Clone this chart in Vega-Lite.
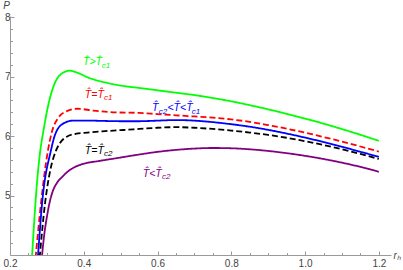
{
  "$schema": "https://vega.github.io/schema/vega-lite/v6.json",
  "width": 381,
  "height": 239,
  "autosize": {"type": "none"},
  "padding": {"left": 10, "top": 16, "right": 12, "bottom": 15},
  "config": {"view": {"stroke": null}, "font": "Liberation Sans"},
  "datasets": {
    "curves": [
      {"s": "gt", "x": 0.255, "y": 3.5}, {"s": "gt", "x": 0.260, "y": 4.0}, {"s": "gt", "x": 0.266, "y": 4.6}, {"s": "gt", "x": 0.273, "y": 5.2}, {"s": "gt", "x": 0.281, "y": 5.7}, {"s": "gt", "x": 0.291, "y": 6.1}, {"s": "gt", "x": 0.303, "y": 6.5}, {"s": "gt", "x": 0.317, "y": 6.82}, {"s": "gt", "x": 0.336, "y": 7.03}, {"s": "gt", "x": 0.362, "y": 7.10}, {"s": "gt", "x": 0.385, "y": 7.06}, {"s": "gt", "x": 0.41, "y": 6.99}, {"s": "gt", "x": 0.46, "y": 6.90}, {"s": "gt", "x": 0.50, "y": 6.85}, {"s": "gt", "x": 0.55, "y": 6.81}, {"s": "gt", "x": 0.60, "y": 6.77}, {"s": "gt", "x": 0.65, "y": 6.73}, {"s": "gt", "x": 0.70, "y": 6.69}, {"s": "gt", "x": 0.75, "y": 6.64}, {"s": "gt", "x": 0.80, "y": 6.585}, {"s": "gt", "x": 0.85, "y": 6.52}, {"s": "gt", "x": 0.90, "y": 6.45}, {"s": "gt", "x": 0.95, "y": 6.375}, {"s": "gt", "x": 1.00, "y": 6.295}, {"s": "gt", "x": 1.05, "y": 6.21}, {"s": "gt", "x": 1.10, "y": 6.118}, {"s": "gt", "x": 1.15, "y": 6.022}, {"s": "gt", "x": 1.20, "y": 5.92},
      {"s": "c1", "x": 0.262, "y": 3.5}, {"s": "c1", "x": 0.270, "y": 4.0}, {"s": "c1", "x": 0.284, "y": 4.87}, {"s": "c1", "x": 0.303, "y": 5.76}, {"s": "c1", "x": 0.314, "y": 6.08}, {"s": "c1", "x": 0.33, "y": 6.30}, {"s": "c1", "x": 0.354, "y": 6.42}, {"s": "c1", "x": 0.382, "y": 6.46}, {"s": "c1", "x": 0.425, "y": 6.43}, {"s": "c1", "x": 0.48, "y": 6.40}, {"s": "c1", "x": 0.55, "y": 6.39}, {"s": "c1", "x": 0.60, "y": 6.37}, {"s": "c1", "x": 0.65, "y": 6.35}, {"s": "c1", "x": 0.70, "y": 6.33}, {"s": "c1", "x": 0.75, "y": 6.31}, {"s": "c1", "x": 0.80, "y": 6.28}, {"s": "c1", "x": 0.85, "y": 6.24}, {"s": "c1", "x": 0.90, "y": 6.185}, {"s": "c1", "x": 0.95, "y": 6.125}, {"s": "c1", "x": 1.00, "y": 6.058}, {"s": "c1", "x": 1.05, "y": 5.985}, {"s": "c1", "x": 1.10, "y": 5.907}, {"s": "c1", "x": 1.15, "y": 5.825}, {"s": "c1", "x": 1.20, "y": 5.74},
      {"s": "mid", "x": 0.270, "y": 3.5}, {"s": "mid", "x": 0.276, "y": 4.0}, {"s": "mid", "x": 0.287, "y": 4.87}, {"s": "mid", "x": 0.311, "y": 5.76}, {"s": "mid", "x": 0.322, "y": 6.02}, {"s": "mid", "x": 0.344, "y": 6.21}, {"s": "mid", "x": 0.371, "y": 6.26}, {"s": "mid", "x": 0.41, "y": 6.26}, {"s": "mid", "x": 0.50, "y": 6.25}, {"s": "mid", "x": 0.55, "y": 6.25}, {"s": "mid", "x": 0.60, "y": 6.26}, {"s": "mid", "x": 0.65, "y": 6.27}, {"s": "mid", "x": 0.70, "y": 6.26}, {"s": "mid", "x": 0.75, "y": 6.235}, {"s": "mid", "x": 0.80, "y": 6.20}, {"s": "mid", "x": 0.85, "y": 6.158}, {"s": "mid", "x": 0.90, "y": 6.105}, {"s": "mid", "x": 0.95, "y": 6.043}, {"s": "mid", "x": 1.00, "y": 5.975}, {"s": "mid", "x": 1.05, "y": 5.9}, {"s": "mid", "x": 1.10, "y": 5.82}, {"s": "mid", "x": 1.15, "y": 5.736}, {"s": "mid", "x": 1.20, "y": 5.65},
      {"s": "c2", "x": 0.274, "y": 3.5}, {"s": "c2", "x": 0.281, "y": 4.0}, {"s": "c2", "x": 0.295, "y": 4.87}, {"s": "c2", "x": 0.310, "y": 5.45}, {"s": "c2", "x": 0.325, "y": 5.76}, {"s": "c2", "x": 0.340, "y": 5.92}, {"s": "c2", "x": 0.354, "y": 5.99}, {"s": "c2", "x": 0.38, "y": 6.04}, {"s": "c2", "x": 0.41, "y": 6.06}, {"s": "c2", "x": 0.45, "y": 6.08}, {"s": "c2", "x": 0.50, "y": 6.10}, {"s": "c2", "x": 0.55, "y": 6.12}, {"s": "c2", "x": 0.60, "y": 6.14}, {"s": "c2", "x": 0.65, "y": 6.15}, {"s": "c2", "x": 0.70, "y": 6.14}, {"s": "c2", "x": 0.75, "y": 6.12}, {"s": "c2", "x": 0.80, "y": 6.093}, {"s": "c2", "x": 0.85, "y": 6.06}, {"s": "c2", "x": 0.90, "y": 6.02}, {"s": "c2", "x": 0.95, "y": 5.972}, {"s": "c2", "x": 1.00, "y": 5.915}, {"s": "c2", "x": 1.05, "y": 5.85}, {"s": "c2", "x": 1.10, "y": 5.778}, {"s": "c2", "x": 1.15, "y": 5.7}, {"s": "c2", "x": 1.20, "y": 5.615},
      {"s": "lt", "x": 0.280, "y": 3.5}, {"s": "lt", "x": 0.287, "y": 4.0}, {"s": "lt", "x": 0.293, "y": 4.35}, {"s": "lt", "x": 0.300, "y": 4.64}, {"s": "lt", "x": 0.308, "y": 4.9}, {"s": "lt", "x": 0.317, "y": 5.09}, {"s": "lt", "x": 0.328, "y": 5.22}, {"s": "lt", "x": 0.341, "y": 5.31}, {"s": "lt", "x": 0.358, "y": 5.41}, {"s": "lt", "x": 0.376, "y": 5.48}, {"s": "lt", "x": 0.403, "y": 5.54}, {"s": "lt", "x": 0.44, "y": 5.58}, {"s": "lt", "x": 0.49, "y": 5.63}, {"s": "lt", "x": 0.55, "y": 5.69}, {"s": "lt", "x": 0.60, "y": 5.735}, {"s": "lt", "x": 0.65, "y": 5.768}, {"s": "lt", "x": 0.70, "y": 5.79}, {"s": "lt", "x": 0.75, "y": 5.80}, {"s": "lt", "x": 0.80, "y": 5.795}, {"s": "lt", "x": 0.85, "y": 5.778}, {"s": "lt", "x": 0.90, "y": 5.75}, {"s": "lt", "x": 0.95, "y": 5.713}, {"s": "lt", "x": 1.00, "y": 5.668}, {"s": "lt", "x": 1.05, "y": 5.615}, {"s": "lt", "x": 1.10, "y": 5.553}, {"s": "lt", "x": 1.15, "y": 5.482}, {"s": "lt", "x": 1.20, "y": 5.40}
    ],
    "labels": [
      {"s": "gt", "k": "m", "t": "T\u0302>T\u0302", "x": 0.398, "y": 7.19},
      {"s": "gt", "k": "s", "t": "c1", "x": 0.449, "y": 7.15},
      {"s": "c1", "k": "m", "t": "T\u0302=T\u0302", "x": 0.403, "y": 6.64},
      {"s": "c1", "k": "s", "t": "c1", "x": 0.455, "y": 6.60},
      {"s": "mid", "k": "m", "t": "T\u0302", "x": 0.585, "y": 6.42},
      {"s": "mid", "k": "s", "t": "c2", "x": 0.603, "y": 6.38},
      {"s": "mid", "k": "m", "t": "<T\u0302<T\u0302", "x": 0.627, "y": 6.42},
      {"s": "mid", "k": "s", "t": "c1", "x": 0.693, "y": 6.38},
      {"s": "c2", "k": "m", "t": "T\u0302=T\u0302", "x": 0.403, "y": 5.70},
      {"s": "c2", "k": "s", "t": "c2", "x": 0.455, "y": 5.66},
      {"s": "lt", "k": "m", "t": "T\u0302<T\u0302", "x": 0.560, "y": 5.31},
      {"s": "lt", "k": "s", "t": "c2", "x": 0.612, "y": 5.27}
    ]
  },
  "encoding": {
    "x": {
      "field": "x", "type": "quantitative",
      "scale": {"domain": [0.2, 1.233], "nice": false, "zero": false},
      "axis": {
        "values": [0.2, 0.25, 0.3, 0.35, 0.4, 0.45, 0.5, 0.55, 0.6, 0.65, 0.7, 0.75, 0.8, 0.85, 0.9, 0.95, 1.0, 1.05, 1.1, 1.15, 1.2],
        "labelExpr": "abs(datum.value * 5 - round(datum.value * 5)) < 0.001 ? format(datum.value, '.1f') : ''",
        "tickSize": {"condition": {"test": "abs(datum.value * 5 - round(datum.value * 5)) < 0.001", "value": -4}, "value": -2.5},
        "grid": false, "domainColor": "#9a9a9a", "tickColor": "#9a9a9a", "tickWidth": 1, "domainWidth": 1,
        "labelColor": "#444444", "labelFontSize": 10, "labelPadding": 7, "labelFlush": false, "labelOverlap": false,
        "title": "r\u2095", "titleX": 383, "titleY": 3, "titleAlign": "left", "titleBaseline": "alphabetic",
        "titleFontStyle": "italic", "titleFontWeight": "normal", "titleFontSize": 10, "titleColor": "#444444"
      }
    },
    "y": {
      "field": "y", "type": "quantitative",
      "scale": {"domain": [4, 8.02], "nice": false, "zero": false},
      "axis": {
        "values": [4.2, 4.4, 4.6, 4.8, 5, 5.2, 5.4, 5.6, 5.8, 6, 6.2, 6.4, 6.6, 6.8, 7, 7.2, 7.4, 7.6, 7.8, 8],
        "labelExpr": "abs(datum.value - round(datum.value)) < 0.001 ? format(datum.value, 'd') : ''",
        "tickSize": {"condition": {"test": "abs(datum.value - round(datum.value)) < 0.001", "value": -4}, "value": -2.5},
        "grid": false, "domainColor": "#9a9a9a", "tickColor": "#9a9a9a", "tickWidth": 1, "domainWidth": 1,
        "labelColor": "#444444", "labelFontSize": 10, "labelPadding": 4, "labelFlush": false, "labelOverlap": false,
        "title": "P", "titleAngle": 0, "titleX": -4, "titleY": -8, "titleAlign": "center", "titleBaseline": "alphabetic",
        "titleFontStyle": "italic", "titleFontWeight": "normal", "titleFontSize": 10, "titleColor": "#444444"
      }
    },
    "color": {
      "field": "s", "type": "nominal", "legend": null,
      "scale": {"domain": ["gt", "c1", "mid", "c2", "lt"], "range": ["#00ff00", "#ff0000", "#0000ff", "#000000", "#800080"]}
    }
  },
  "layer": [
    {
      "data": {"name": "curves"},
      "mark": {"type": "line", "interpolate": "monotone", "clip": true, "strokeWidth": 1.8},
      "encoding": {
        "strokeDash": {
          "field": "s", "type": "nominal", "legend": null,
          "scale": {"domain": ["gt", "c1", "mid", "c2", "lt"], "range": [[1, 0], [6, 3], [1, 0], [6, 3], [1, 0]]}
        }
      }
    },
    {
      "data": {"name": "labels"},
      "mark": {"type": "text", "align": "left", "baseline": "alphabetic", "fontStyle": "italic"},
      "encoding": {
        "text": {"field": "t"},
        "size": {"field": "k", "type": "nominal", "legend": null, "scale": {"domain": ["m", "s"], "range": [10.5, 8]}}
      }
    }
  ]
}
